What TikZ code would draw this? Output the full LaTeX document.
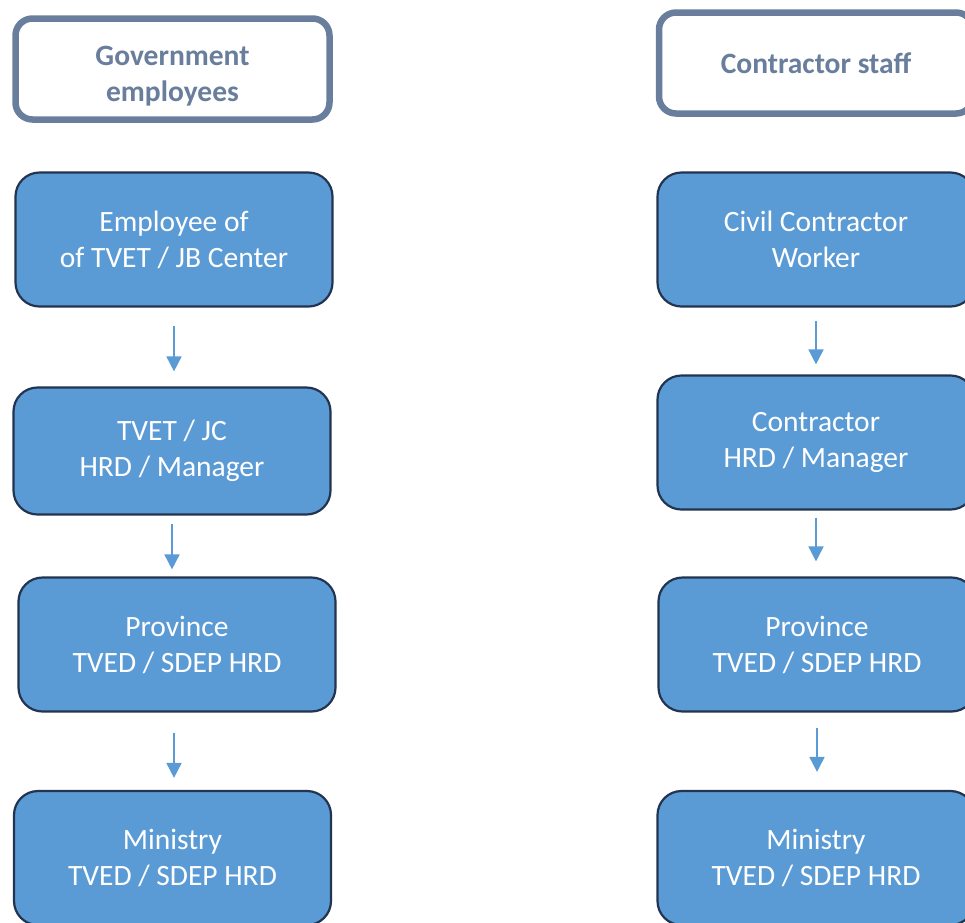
\documentclass[tikz,border=0pt]{standalone}
\usepackage{fontspec}
\setmainfont{Carlito}
\usepackage{tikz}
\usetikzlibrary{arrows.meta,positioning,calc}
\definecolor{boxblue}{RGB}{91,155,213}
\definecolor{boxedge}{RGB}{34,52,80}
\definecolor{headslate}{RGB}{104,126,156}

\tikzset{
    headbox/.style={draw=headslate, line width=6.5pt, fill=white, rounded corners=17pt,
        minimum width=314pt, minimum height=101pt, align=center, text=headslate,
        font=\fontsize{29.5}{36}\selectfont\bfseries},
    headtext/.style={align=center, text=headslate, font=\fontsize{29.5}{36}\selectfont\bfseries},
    stagebox/.style={draw=boxedge, line width=2.2pt, fill=boxblue, rounded corners=24pt,
        minimum width=317pt, minimum height=134pt, align=center, text=white,
        font=\fontsize{29.5}{36}\selectfont},
    flowarrow/.style={draw=boxblue, line width=1.8pt, -{Triangle[length=15pt,width=15pt]}}
}

\begin{document}
\begin{tikzpicture}[x=1pt, y=-1pt]
    \clip (0,0) rectangle (965,922);
    \useasboundingbox (0,0) rectangle (965,922);

    % Left column
    \node[headbox, label={[headtext, yshift=-7pt]center:Government\\employees}] (govhead) at (172.5,69) {};
    \node[stagebox] (govemp)  at (174,239.5) {Employee of\\of TVET / JB Center};
    \node[stagebox, minimum height=127pt] (govhrd) at (172,451) {TVET / JC\\HRD / Manager};
    \node[stagebox] (govprov) at (177,644.5) {Province\\TVED / SDEP HRD};
    \node[stagebox] (govmin)  at (172.5,858) {Ministry\\TVED / SDEP HRD};

    % Right column
    \node[headbox]  (conhead) at (816,63) {Contractor staff};
    \node[stagebox] (conwork) at (816,239.5) {Civil Contractor\\Worker};
    \node[stagebox] (conhrd)  at (816,442.5) {Contractor\\HRD / Manager};
    \node[stagebox] (conprov) at (817,644.5) {Province\\TVED / SDEP HRD};
    \node[stagebox] (conmin)  at (816,858) {Ministry\\TVED / SDEP HRD};

    % Arrows
    \draw[flowarrow, shorten <=18pt, shorten >=15pt] (govemp.south) -- (govemp.south |- govhrd.north);
    \draw[flowarrow, shorten <=8pt, shorten >=7pt] (govhrd.south) -- (govhrd.south |- govprov.north);
    \draw[flowarrow, shorten <=20pt, shorten >=12pt] (govprov.south -| govemp.south) -- (govemp.south |- govmin.north);
    \draw[flowarrow, shorten <=13pt, shorten >=10pt] (conwork.south) -- (conwork.south |- conhrd.north);
    \draw[flowarrow, shorten <=7pt, shorten >=15pt] (conhrd.south) -- (conhrd.south |- conprov.north);
    \draw[flowarrow, shorten <=15pt, shorten >=18pt] (conprov.south) -- (conprov.south |- conmin.north);
\end{tikzpicture}
\end{document}
